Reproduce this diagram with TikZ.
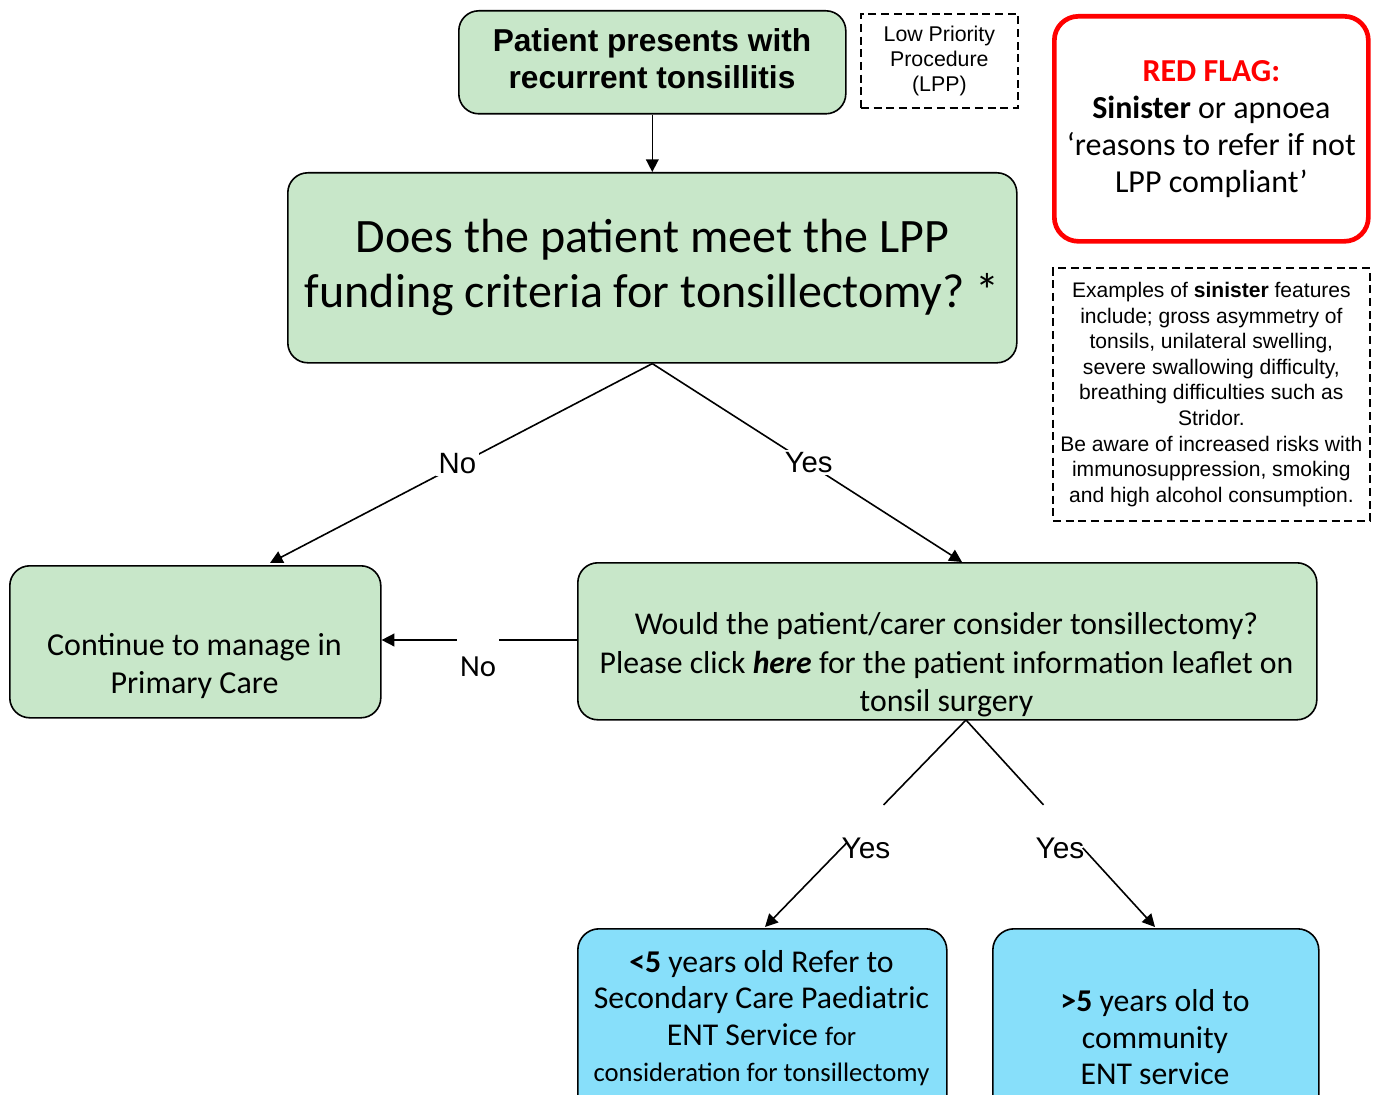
\documentclass[tikz,border=0pt]{standalone}
\usepackage{fontspec}
\setmainfont{Carlito}
\newfontfamily\arial{Liberation Sans}
\usetikzlibrary{arrows.meta,calc}
\definecolor{boxgreen}{RGB}{200,231,201}
\definecolor{boxblue}{RGB}{135,223,250}
\definecolor{flagred}{RGB}{255,0,0}
\tikzset{
  sz/.style 2 args={minimum width=#1*0.75pt, minimum height=#2*0.75pt, anchor=north west},
  greenbox/.style={draw=black, line width=1.2pt, fill=boxgreen, rounded corners=15pt, align=center, inner sep=0pt},
  bluebox/.style={draw=black, line width=1.2pt, fill=boxblue, rounded corners=16pt, inner sep=0pt},
  dashbox/.style={draw=black, line width=1.3pt, dash pattern=on 6pt off 3.5pt, align=center, inner sep=0pt},
  flagbox/.style={draw=flagred, line width=3.5pt, rounded corners=18pt, align=center, inner sep=0pt},
  txt/.style={align=center, inner sep=0pt},
  conn/.style={line width=1.2pt},
  arr/.style={line width=1.2pt, -{Triangle[length=9.5pt,width=9.5pt]}},
  lbl/.style={font=\arial\fontsize{22}{26}\selectfont, fill=white, inner sep=2pt},
}
\begin{document}
\begin{tikzpicture}[x=0.75pt,y=-0.75pt]
\useasboundingbox (0,0) rectangle (1381,1095);

% boxes
\node[greenbox, sz={387}{103}] (start) at (458,10) {};
\node[txt, font=\arial\bfseries\fontsize{23.75}{27.75}\selectfont] (starttxt) at (652,58.5)
  {Patient presents with\\recurrent tonsillitis};
\node[dashbox, sz={157}{94}, font=\arial\fontsize{16}{18.75}\selectfont] (lpp) at (860,13)
  {Low Priority\\Procedure\\(LPP)};
\node[flagbox, sz={314}{225}, font=\fontsize{24}{27.75}\selectfont] (flag) at (1052,14)
  {\textcolor{flagred}{\textbf{RED FLAG:}}\\\textbf{Sinister} or apnoea\\‘reasons to refer if not\\LPP compliant’};
\node[greenbox, sz={729}{190}, font=\fontsize{36}{41.25}\selectfont] (q1) at (287,172)
  {Does the patient meet the LPP\\funding criteria for tonsillectomy?\ *};
\node[dashbox, sz={317}{253}, font=\arial\fontsize{15.8}{19.2}\selectfont] (ex) at (1052,267)
  {Examples of \textbf{sinister} features\\include; gross asymmetry of\\tonsils, unilateral swelling,\\severe swallowing difficulty,\\breathing difficulties such as\\Stridor.\\Be aware of increased risks with\\immunosuppression, smoking\\and high alcohol consumption.};
\node[greenbox, sz={371}{152}] (primary) at (9,565) {};
\node[txt, font=\fontsize{24}{28.5}\selectfont] (primarytxt) at (194.5,666)
  {Continue to manage in\\Primary Care};
\node[greenbox, sz={739}{157}] (q2) at (577,562) {};
\node[txt, font=\fontsize{23.8}{29}\selectfont] (q2txt) at (946.5,665)
  {Would the patient/carer consider tonsillectomy?\\Please click \textbf{\textit{here}} for the patient information leaflet on\\tonsil surgery};
\node[bluebox, sz={369}{190}] (under5) at (577,928) {};
\node[txt, font=\fontsize{23.8}{27.4}\selectfont] (under5txt) at (761.5,1018)
  {\textbf{<5} years old Refer to\\Secondary Care Paediatric\\ENT Service {\fontsize{20}{20}\selectfont for}\\{\fontsize{20}{20}\selectfont consideration for tonsillectomy}};
\node[bluebox, sz={326}{190}] (over5) at (992,928) {};
\node[txt, font=\fontsize{23.8}{27.4}\selectfont] (over5txt) at (1155,1037.5)
  {\textbf{>5} years old to\\community\\ENT service};

% connectors
\draw[arr] (start.south) -- (q1.north);

\coordinate (noend) at (270,563);
\coordinate (yesend) at (962,562);
\draw[arr] (q1.south) -- node[lbl, pos=0.51, yshift=1.5pt] (no1) {No} (noend);
\draw[arr] (q1.south) -- node[lbl, pos=0.505, yshift=1pt] (yes1) {Yes} (yesend);

\draw[arr] (q2.west |- 0,640) -- (primary.east |- 0,640);
\node[font=\fontsize{23}{26}\selectfont, fill=white, inner xsep=2pt, inner ysep=0pt, text height=32pt, text depth=1pt, anchor=base] (no2) at (478,676) {No};

\coordinate (split) at (966,720);
\coordinate (lend) at (765,927);
\coordinate (rend) at (1155,927);
\path (split) -- (lend) coordinate[pos=0.41] (lg1) coordinate[pos=0.594] (lg2);
\path (split) -- (rend) coordinate[pos=0.41] (rg1) coordinate[pos=0.618] (rg2);
\draw[conn] (split) -- (lg1);
\draw[arr] (lg2) -- (lend);
\draw[conn] (split) -- (rg1);
\draw[arr] (rg2) -- (rend);
\node[font=\arial\fontsize{22.4}{26}\selectfont, inner sep=0pt] (yes2) at (866,848) {Yes};
\node[font=\arial\fontsize{22.4}{26}\selectfont, inner sep=0pt] (yes3) at (1060,848) {Yes};
\end{tikzpicture}
\end{document}
